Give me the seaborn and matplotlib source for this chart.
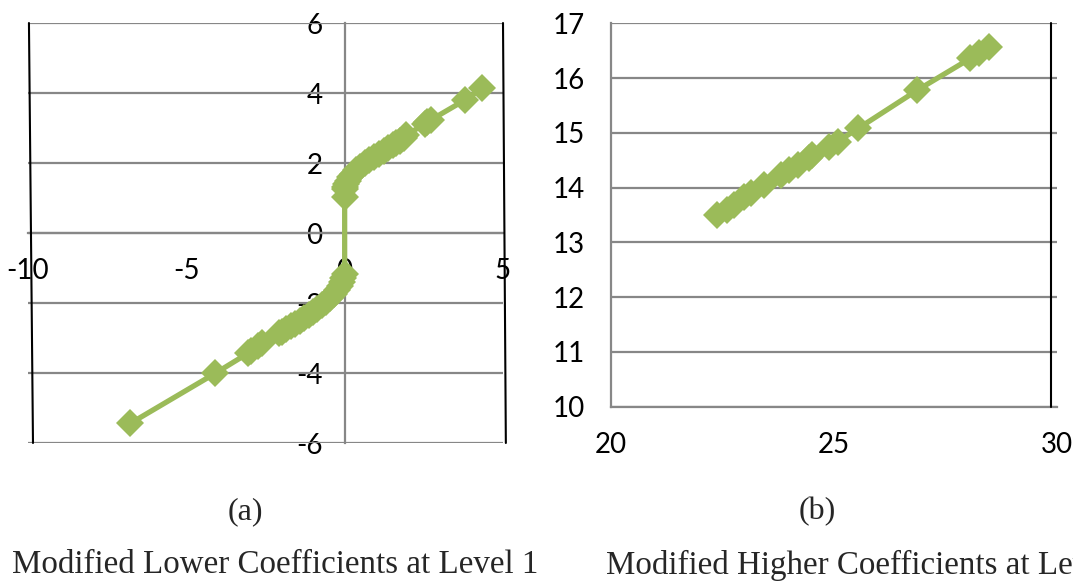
import matplotlib
matplotlib.use("Agg")
import matplotlib.pyplot as plt
import seaborn as sns
import pandas as pd

# ---------------- data ----------------
# panel (a): lower coefficients (x, y), in drawing order
lower_x = [-6.77, -4.09, -3.06, -2.95, -2.75, -2.62, -2.08, -1.98, -1.85, -1.70,
           -1.56, -1.42, -1.28, -1.14, -1.00, -0.86, -0.72, -0.58, -0.46, -0.35,
           -0.25, -0.16, -0.09, -0.04, 0.00,
           0.00, 0.00, 0.02, 0.05, 0.10, 0.17, 0.26, 0.36, 0.48, 0.63,
           0.78, 0.93, 1.08, 1.23, 1.38, 1.52, 1.61, 1.75, 1.86, 1.94,
           2.55, 2.60, 2.72, 3.80, 4.34]
lower_y = [-5.44, -4.01, -3.44, -3.38, -3.24, -3.15, -2.87, -2.82, -2.75, -2.67,
           -2.59, -2.51, -2.43, -2.35, -2.26, -2.17, -2.07, -1.96, -1.86, -1.75,
           -1.64, -1.52, -1.40, -1.28, -1.18,
           1.04, 1.25, 1.32, 1.40, 1.50, 1.60, 1.70, 1.80, 1.90, 1.99,
           2.09, 2.18, 2.27, 2.35, 2.43, 2.51, 2.56, 2.64, 2.72, 2.80,
           3.12, 3.17, 3.23, 3.80, 4.13]

# panel (b): higher coefficients (x, y)
higher_x = [22.37, 22.60, 22.76, 22.98, 23.14, 23.44, 23.82, 23.98, 24.20, 24.43,
            24.51, 24.89, 25.08, 25.54, 26.87, 28.06, 28.25, 28.48]
higher_y = [13.50, 13.59, 13.68, 13.83, 13.90, 14.05, 14.23, 14.32, 14.41, 14.54,
            14.60, 14.75, 14.84, 15.08, 15.78, 16.36, 16.45, 16.57]

a_xticks = [-10, -5, 0, 5]
a_yticks = [-6, -4, -2, 0, 2, 4, 6]
b_xticks = [20, 25, 30]
b_yticks = [10, 11, 12, 13, 14, 15, 16, 17]

label_a = "(a)"
label_b = "(b)"
caption_a = "Modified Lower Coefficients at Level 1"
caption_b = "Modified Higher Coefficients at Level 1"

# ---------------- style ----------------
sns.set_style("white")
plt.rcParams["font.family"] = ["Lato", "DejaVu Sans"]
plt.rcParams["axes.unicode_minus"] = False

GREEN = "#9BBB59"
GRID = "#878787"
W, H = 1073, 581
TICK_FS = 20

fig = plt.figure(figsize=(W / 100, H / 100), dpi=100)

ax_a = fig.add_axes([28 / W, 1 - 443 / H, (503 - 28) / W, (443 - 23) / H])
ax_b = fig.add_axes([611 / W, 1 - 406.7 / H, (1057 - 611) / W, (406.7 - 23.3) / H])

df_a = pd.DataFrame({"x": lower_x, "y": lower_y})
df_b = pd.DataFrame({"x": higher_x, "y": higher_y})

line_kw = dict(sort=False, estimator=None, color=GREEN, linewidth=3.8,
               marker="D", markersize=14, markeredgewidth=0, zorder=3)
sns.lineplot(data=df_a, x="x", y="y", ax=ax_a, **line_kw)
sns.lineplot(data=df_b, x="x", y="y", ax=ax_b, **line_kw)

for ax in (ax_a, ax_b):
    ax.set_xlabel("")
    ax.set_ylabel("")
    ax.grid(False)
    ax.spines["top"].set_visible(False)
    ax.spines["right"].set_visible(False)
    for s in ("left", "bottom"):
        ax.spines[s].set_color(GRID)
        ax.spines[s].set_linewidth(1.6)
        ax.spines[s].set_zorder(1)

# panel a
ax_a.set_xlim(-10, 5)
ax_a.set_ylim(-6, 6)
ax_a.set_xticks(a_xticks)
ax_a.set_yticks(a_yticks)
for yv in a_yticks:
    ax_a.axhline(yv, color=GRID, linewidth=1.6, zorder=1)
ax_a.spines["left"].set_position(("data", 0))
ax_a.spines["bottom"].set_position(("data", 0))
ax_a.tick_params(axis="x", direction="out", length=7, width=1.6, color=GRID,
                 pad=11, labelsize=TICK_FS, labelcolor="black")
ax_a.tick_params(axis="y", direction="out", length=0, pad=16, labelsize=TICK_FS,
                 labelcolor="black")
# skewed black frame lines of the original picture
ax_a.plot([0.002, 0.0105], [1.0, 0.0], transform=ax_a.transAxes, color="black",
          linewidth=1.5, clip_on=False, zorder=2)
ax_a.plot([1.0, 1.006], [1.0, 0.0], transform=ax_a.transAxes, color="black",
          linewidth=1.5, clip_on=False, zorder=2)

# panel b
ax_b.set_xlim(20, 30)
ax_b.set_ylim(10, 17)
ax_b.set_xticks(b_xticks)
ax_b.set_yticks(b_yticks)
for yv in b_yticks:
    ax_b.axhline(yv, color=GRID, linewidth=1.6, zorder=1)
ax_b.tick_params(axis="x", direction="out", length=7, width=1.6, color=GRID,
                 pad=11, labelsize=TICK_FS, labelcolor="black")
ax_b.tick_params(axis="y", direction="out", length=7, width=1.6, color=GRID,
                 pad=12, labelsize=TICK_FS, labelcolor="black")
ax_b.plot([0.9865, 0.9865], [1.0, 0.0], transform=ax_b.transAxes, color="black",
          linewidth=1.5, clip_on=False, zorder=2)

for ax in (ax_a, ax_b):
    ax.set_facecolor("white")
    for lab in ax.get_xticklabels() + ax.get_yticklabels():
        lab.set_zorder(4)

serif = ["Liberation Serif", "DejaVu Serif"]
fig.text(245 / W, 1 - 512 / H, label_a, ha="center", va="center",
         fontsize=23, family=serif)
fig.text(817 / W, 1 - 512 / H, label_b, ha="center", va="center",
         fontsize=23, family=serif)
fig.text(12 / W, 1 - 565 / H, caption_a, ha="left", va="center",
         fontsize=23.8, family=serif)
fig.text(606 / W, 1 - 565 / H, caption_b, ha="left", va="center",
         fontsize=23.8, family=serif)

fig.savefig("out.png", dpi=100, facecolor="white")
